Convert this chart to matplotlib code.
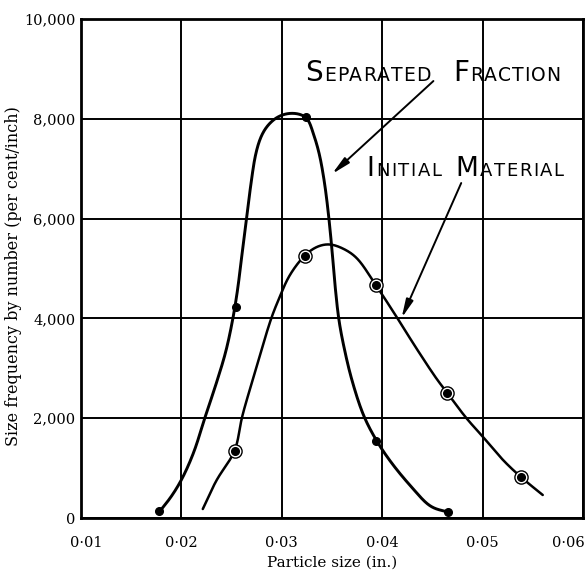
import numpy as np
import matplotlib
matplotlib.use("Agg")
import matplotlib.pyplot as plt
import matplotlib.transforms as mtransforms
from matplotlib.offsetbox import TextArea, HPacker, AnnotationBbox

# ---------------- data ----------------
x_ticks = [0.01, 0.02, 0.03, 0.04, 0.05, 0.06]
x_tick_labels = ["0\u00b701", "0\u00b702", "0\u00b703", "0\u00b704", "0\u00b705", "0\u00b706"]
y_ticks = [0, 2000, 4000, 6000, 8000, 10000]
y_tick_labels = ["0", "2,000", "4,000", "6,000", "8,000", "10,000"]

# measured points
sep_x = [0.0178, 0.0254, 0.0324, 0.0394, 0.0466]
sep_y = [140, 4220, 8030, 1540, 120]
init_x = [0.0253, 0.0323, 0.0394, 0.0465, 0.0538]
init_y = [1340, 5250, 4670, 2500, 820]

# hand-drawn curves
sep_curve_x = [0.01787, 0.01896, 0.02005, 0.02124, 0.02233, 0.02342, 0.02441, 0.02510,
               0.02559, 0.02599, 0.02649, 0.02698, 0.02738, 0.02787, 0.02847, 0.02955,
               0.03094, 0.03243, 0.03312, 0.03371, 0.03421, 0.03460, 0.03500,
               0.03530, 0.03569, 0.03619, 0.03698, 0.03817, 0.03946, 0.04094, 0.04292,
               0.04490, 0.04658]
sep_curve_y = [140, 421, 782, 1323, 2004, 2665, 3327, 3968,
               4569, 5210, 6012, 6774, 7275, 7615, 7836, 8036,
               8116, 8036, 7715, 7315, 6774, 6172, 5371,
               4669, 3968, 3427, 2766, 2044, 1543, 1102, 621,
               220, 120]

init_curve_x = [0.02213, 0.02351, 0.02530, 0.02604, 0.02728, 0.02896, 0.02975, 0.03074,
                0.03223, 0.03342, 0.03470, 0.03599, 0.03738, 0.03936, 0.04144, 0.04332,
                0.04550, 0.04649, 0.04837, 0.05005, 0.05203, 0.05381, 0.05599]
init_curve_y = [180, 762, 1343, 2024, 2886, 4008, 4409, 4850,
                5250, 5431, 5491, 5411, 5230, 4669, 4028, 3427,
                2766, 2505, 2004, 1623, 1162, 822, 461]

# labels / annotations
sep_label = "Separated Fraction"
init_label = "Initial Material"
sep_label_pos = (0.03233, 8778)
init_label_pos = (0.03847, 6854)
sep_arrow = ((0.0451, 8757), (0.0350, 6894))     # tail, head
init_arrow = ((0.04787, 6713), (0.04193, 4008))

XR = (0.01, 0.06)
YR = (0, 10000)
SX, SY = 502.0, 499.0   # approximate pixel extent of the axes, for even smoothing


def smooth(xs, ys, n=24, alpha=0.5, sigma=4.5):
    """Centripetal Catmull-Rom path through traced points, lightly smoothed."""
    P = np.column_stack([(np.asarray(xs) - XR[0]) / (XR[1] - XR[0]) * SX,
                         (np.asarray(ys) - YR[0]) / (YR[1] - YR[0]) * SY])
    P = np.vstack([2 * P[0] - P[1], P, 2 * P[-1] - P[-2]])
    out = []
    for i in range(1, len(P) - 2):
        p0, p1, p2, p3 = P[i - 1], P[i], P[i + 1], P[i + 2]
        t0 = 0.0
        t1 = t0 + np.linalg.norm(p1 - p0) ** alpha
        t2 = t1 + np.linalg.norm(p2 - p1) ** alpha
        t3 = t2 + np.linalg.norm(p3 - p2) ** alpha
        t = np.linspace(t1, t2, n, endpoint=False)[:, None]
        A1 = (t1 - t) / (t1 - t0) * p0 + (t - t0) / (t1 - t0) * p1
        A2 = (t2 - t) / (t2 - t1) * p1 + (t - t1) / (t2 - t1) * p2
        A3 = (t3 - t) / (t3 - t2) * p2 + (t - t2) / (t3 - t2) * p3
        B1 = (t2 - t) / (t2 - t0) * A1 + (t - t0) / (t2 - t0) * A2
        B2 = (t3 - t) / (t3 - t1) * A2 + (t - t1) / (t3 - t1) * A3
        C = (t2 - t) / (t2 - t1) * B1 + (t - t1) / (t2 - t1) * B2
        out.append(C)
    out.append(P[-2][None])
    D = np.vstack(out)
    # resample by arc length
    seg = np.hypot(np.diff(D[:, 0]), np.diff(D[:, 1]))
    s = np.concatenate([[0], np.cumsum(seg)])
    step = 0.5
    su = np.arange(0, s[-1], step)
    su = np.append(su, s[-1])
    R = np.column_stack([np.interp(su, s, D[:, 0]), np.interp(su, s, D[:, 1])])
    # gaussian smoothing with odd reflection at the ends (keeps end points)
    k = int(3 * sigma / step)
    g = np.exp(-0.5 * (np.arange(-k, k + 1) * step / sigma) ** 2)
    g /= g.sum()
    head = 2 * R[0] - R[k:0:-1]
    tail = 2 * R[-1] - R[-2:-k - 2:-1]
    Rp = np.vstack([head, R, tail])
    Sx = np.convolve(Rp[:, 0], g, mode="valid")
    Sy = np.convolve(Rp[:, 1], g, mode="valid")
    return (Sx / SX * (XR[1] - XR[0]) + XR[0], Sy / SY * (YR[1] - YR[0]) + YR[0])


def small_caps(ax, text, xy, big, small, sep=1.0, word_sep=14):
    props_big = dict(fontsize=big, family="DejaVu Sans", color="black")
    props_small = dict(fontsize=small, family="DejaVu Sans", color="black")
    words = []
    for w in text.split():
        kids = [TextArea(w[0].upper(), textprops=props_big)]
        for ch in w[1:]:
            kids.append(TextArea(ch.upper(), textprops=props_small))
        words.append(HPacker(children=kids, align="baseline", pad=0, sep=sep))
    box = HPacker(children=words, align="baseline", pad=0, sep=word_sep)
    desc = 0.236 * big
    ab = AnnotationBbox(box, xy, xycoords="data", xybox=(0, -desc),
                        boxcoords="offset points", box_alignment=(0, 0),
                        frameon=False, pad=0)
    ax.add_artist(ab)


plt.rcParams["font.family"] = ["DejaVu Serif"]

fig = plt.figure(figsize=(5.86, 5.72), dpi=100)
ax = fig.add_axes([81 / 586, 1 - 518 / 572, (583 - 81) / 586, (518 - 19) / 572])

ax.set_xlim(*XR)
ax.set_ylim(*YR)
ax.set_xticks(x_ticks)
ax.set_xticklabels(x_tick_labels, fontsize=10.5)
ax.set_yticks(y_ticks)
ax.set_yticklabels(y_tick_labels, fontsize=10.5)
ax.tick_params(axis="x", length=0, pad=13)
ax.tick_params(axis="y", length=0, pad=4)
ax.grid(True, color="black", lw=1.4)
for s in ax.spines.values():
    s.set_linewidth(2.0)

# nudge the end x tick labels so they stay inside the figure like the reference
xl = ax.get_xticklabels()
xl[0].set_transform(xl[0].get_transform() + mtransforms.ScaledTranslation(5 / 100, 0, fig.dpi_scale_trans))
xl[-1].set_horizontalalignment("right")
xl[-1].set_transform(xl[-1].get_transform() + mtransforms.ScaledTranslation(2 / 100, 0, fig.dpi_scale_trans))

ax.set_xlabel("Particle size (in.)", fontsize=11, labelpad=4)
ax.set_ylabel("Size frequency by number (per cent/inch)", fontsize=11.5)
ax.yaxis.set_label_coords(-0.117, 0.485)

# curves
sx, sy = smooth(sep_curve_x, sep_curve_y)
ax.plot(sx, sy, color="black", lw=2.1, solid_capstyle="round", solid_joinstyle="round", zorder=3)
ix, iy = smooth(init_curve_x, init_curve_y)
ax.plot(ix, iy, color="black", lw=1.8, solid_capstyle="round", solid_joinstyle="round", zorder=3)

# markers
ax.plot(sep_x, sep_y, "o", color="black", ms=5.5, zorder=4, clip_on=False)
ax.plot(init_x, init_y, "o", mfc="white", mec="black", mew=1.0, ms=9.5, zorder=4)
ax.plot(init_x, init_y, "o", color="black", ms=5.5, zorder=5)

# annotations
small_caps(ax, sep_label, sep_label_pos, 20, 13.5, sep=0.7, word_sep=16)
small_caps(ax, init_label, init_label_pos, 19, 13, sep=1.1, word_sep=10)

for (tail, head) in (sep_arrow, init_arrow):
    ax.annotate("", xy=head, xytext=tail,
                arrowprops=dict(arrowstyle="-|>,head_length=1.1,head_width=0.22",
                                lw=1.4, color="black", shrinkA=0, shrinkB=0,
                                mutation_scale=10))

fig.savefig("out.png", dpi=100)
